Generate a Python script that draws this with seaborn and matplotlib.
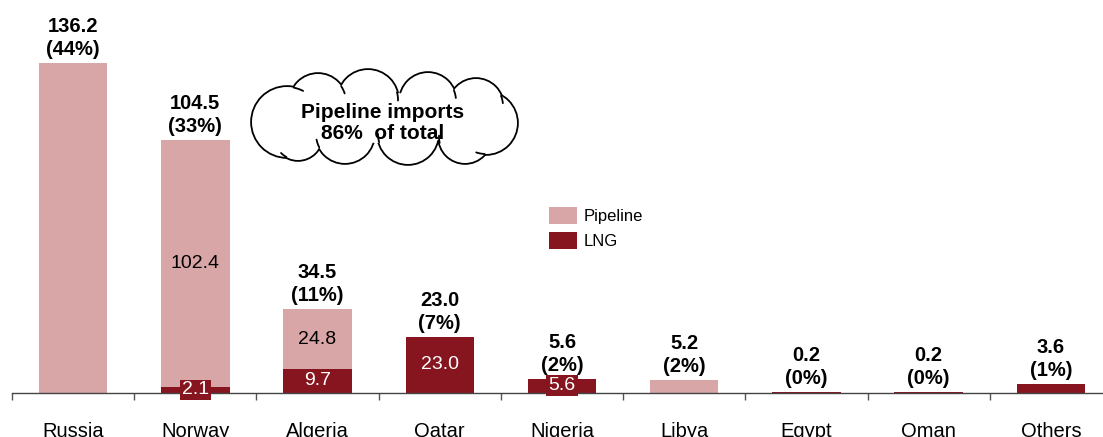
import matplotlib
matplotlib.use("Agg")
import matplotlib.pyplot as plt
from matplotlib.patches import Circle, Ellipse, Patch
import numpy as np
import pandas as pd
import seaborn as sns

# Import volumes by origin (pipeline vs. LNG)
countries = ["Russia", "Norway", "Algeria", "Qatar", "Nigeria", "Libya", "Egypt", "Oman", "Others"]
pipeline = [136.2, 102.4, 24.8, 0.0, 0.0, 5.2, 0.0, 0.0, 0.0]
lng = [0.0, 2.1, 9.7, 23.0, 5.6, 0.0, 0.2, 0.2, 3.6]
series_names = ["Pipeline", "LNG"]
callout_text = "Pipeline imports\n86%  of total"

PIPE_COLOR = "#D9A6A7"
LNG_COLOR = "#86151F"

sns.set_style("white")
plt.rcParams["font.family"] = ["Liberation Sans", "DejaVu Sans"]
plt.rcParams["text.color"] = "black"
plt.rcParams["xtick.color"] = "#555555"
plt.rcParams["xtick.labelcolor"] = "black"

df = pd.DataFrame({"country": countries, "pipeline": pipeline, "lng": lng})
df["total"] = df["pipeline"] + df["lng"]
df["share"] = df["total"] / df["total"].sum() * 100

W, H = 1103, 437
fig = plt.figure(figsize=(W / 100, H / 100), dpi=100)
axis_y = 392.5
ax = fig.add_axes([12 / W, (H - axis_y) / H, 1100 / W, axis_y / H])

# Stacked bars: full height in pipeline colour, LNG part drawn over the base
sns.barplot(data=df, x="country", y="total", color=PIPE_COLOR, saturation=1,
            width=0.56, errorbar=None, linewidth=0, ax=ax, zorder=2)
sns.barplot(data=df, x="country", y="lng", color=LNG_COLOR, saturation=1,
            width=0.56, errorbar=None, linewidth=0, ax=ax, zorder=3)

ax.set_xlim(-0.5, len(countries) - 0.5)
ax.set_ylim(0, 162.3)
ax.set_xlabel("")
ax.set_ylabel("")
ax.set_yticks([])
for side in ["top", "left", "right"]:
    ax.spines[side].set_visible(False)
ax.spines["bottom"].set_color("#444444")
ax.spines["bottom"].set_linewidth(1.0)
ax.spines["bottom"].set_zorder(4)

ax.set_xticks(range(len(countries)))
ax.set_xticklabels(countries, fontsize=14.5, color="black")
ax.tick_params(axis="x", which="major", length=0, pad=21.5)
ax.set_xticks(np.arange(-0.5, len(countries)), minor=True)
ax.tick_params(axis="x", which="minor", bottom=True, length=5, width=1.0,
               color="#555555", direction="out")

# Totals with share of the overall volume
for i, row in df.iterrows():
    ax.annotate(f"{row['total']:.1f}\n({row['share']:.0f}%)",
                xy=(i, row["total"]), xytext=(0, 3), textcoords="offset points",
                ha="center", va="bottom", fontsize=14.5, fontweight="bold",
                linespacing=1.25, zorder=6)

# Segment values inside the bars
for i, row in df.iterrows():
    mixed = row["pipeline"] > 0 and row["lng"] > 0
    if row["lng"] >= 5 or mixed:
        small = row["lng"] < 7
        ax.text(i, row["lng"] / 2, f"{row['lng']:.1f}", ha="center", va="center",
                fontsize=14, color="white", zorder=6,
                bbox=dict(boxstyle="square,pad=0.1", fc=LNG_COLOR, ec="none") if small else None)
    if mixed:
        ax.text(i, row["lng"] + row["pipeline"] / 2, f"{row['pipeline']:.1f}",
                ha="center", va="center", fontsize=14, color="black", zorder=6)

handles = [Patch(facecolor=PIPE_COLOR, edgecolor="none"),
           Patch(facecolor=LNG_COLOR, edgecolor="none")]
ax.legend(handles, series_names, loc="upper left",
          bbox_to_anchor=(549 / W, 1 - 207 / H), bbox_transform=fig.transFigure,
          frameon=False, fontsize=12, handlelength=1.65, handleheight=1.15,
          handletextpad=0.45, labelspacing=0.5, borderpad=0, borderaxespad=0)

# Cloud callout drawn in pixel space on an overlay
ov = fig.add_axes([0, 0, 1, 1], zorder=5)
ov.set_xlim(0, W)
ov.set_ylim(H, 0)
ov.axis("off")
ov.patch.set_alpha(0)

bumps = [(287, 122, 35), (318, 102, 28), (368, 100, 30), (428, 101, 28),
         (476, 106, 27), (486, 123, 31), (465, 137, 26), (408, 134, 30),
         (345, 134, 29), (298, 136, 24)]
lw = 1.3
for x, y, r in bumps:
    ov.add_patch(Circle((x, y), r, fc="white", ec="black", lw=2 * lw))
for x, y, r in bumps:
    ov.add_patch(Circle((x, y), r, fc="white", ec="none"))
ov.add_patch(Ellipse((387, 118), 220, 50, fc="white", ec="none"))

# short creases where one puff tucks under its neighbour
centre = np.array([387.0, 118.0])
for k in range(len(bumps)):
    x1, y1, r1 = bumps[k]
    x2, y2, r2 = bumps[(k + 1) % len(bumps)]
    p1, p2 = np.array([x1, y1]), np.array([x2, y2])
    d = np.linalg.norm(p2 - p1)
    a = (r1 ** 2 - r2 ** 2 + d ** 2) / (2 * d)
    h = np.sqrt(max(r1 ** 2 - a ** 2, 0))
    base = p1 + a * (p2 - p1) / d
    perp = np.array([-(p2 - p1)[1], (p2 - p1)[0]]) / d
    cands = [base + h * perp, base - h * perp]
    pt = max(cands, key=lambda q: np.linalg.norm(q - centre))
    phi = np.arctan2(pt[1] - y1, pt[0] - x1)
    step = np.deg2rad(16)
    probe = np.array([x1 + r1 * np.cos(phi + 0.2), y1 + r1 * np.sin(phi + 0.2)])
    sign = 1 if np.linalg.norm(probe - p2) < r2 else -1
    t = np.linspace(phi, phi + sign * step, 10)
    ov.plot(x1 + r1 * np.cos(t), y1 + r1 * np.sin(t), color="black", lw=lw,
            solid_capstyle="round")

ov.text(383, 123, callout_text, ha="center", va="center", fontsize=15,
        fontweight="bold", linespacing=1.15)

fig.savefig("out.png", dpi=100)
